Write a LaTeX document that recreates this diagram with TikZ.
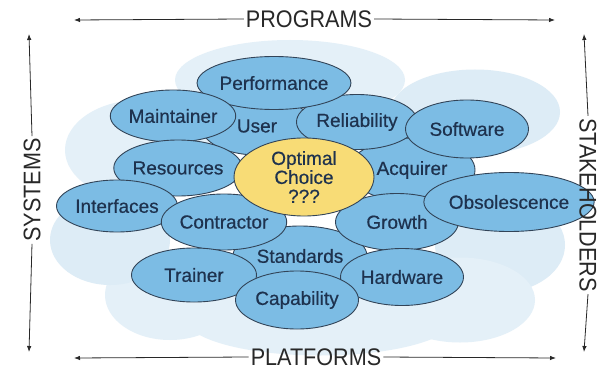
\documentclass[tikz,border=0pt]{standalone}
\usepackage{fontspec}
\setmainfont{Liberation Sans}
\newfontfamily\bubfont[FakeBold=0.5]{Liberation Sans}
\newfontfamily\axfont[FakeStretch=0.9]{Liberation Sans}
\usetikzlibrary{shapes.geometric,arrows.meta}
\definecolor{bubfill}{RGB}{124,188,228}
\definecolor{bubline}{RGB}{50,68,88}
\definecolor{yelfill}{RGB}{248,220,118}
\definecolor{txt}{RGB}{30,50,78}
\definecolor{cloud}{RGB}{228,240,248}
\definecolor{cloudb}{RGB}{221,236,246}
\definecolor{axis}{RGB}{40,40,40}
\tikzset{
  bub/.style={ellipse, draw=bubline, line width=0.9pt, fill=bubfill, inner sep=0pt,
    text=txt, font=\bubfont\fontsize{19}{19}\selectfont},
  yel/.style={bub, fill=yelfill},
  cloudpart/.style={ellipse, fill=cloud, draw=none, inner sep=0pt},
  axlabel/.style={text=axis, font=\axfont\fontsize{24}{26}\selectfont, inner sep=2pt},
  arr/.style={draw=axis, line width=0.8pt, -{Latex[length=6pt,width=4.5pt]}}
}
\begin{document}
\begin{tikzpicture}[x=1pt,y=-1pt]
\useasboundingbox[fill=white] (0,0) rectangle (615,377);
% background clouds
\node[cloudpart, minimum width=230, minimum height=80] (c1) at (290,80) {};
\node[cloudpart, minimum width=170, minimum height=85, fill=cloudb] (c2) at (475,112) {};
\node[cloudpart, minimum width=150, minimum height=100] (c3) at (140,150) {};
\node[cloudpart, minimum width=130, minimum height=95, fill=cloudb] (c4) at (500,245) {};
\node[cloudpart, minimum width=130, minimum height=90] (c5) at (170,295) {};
\node[cloudpart, minimum width=270, minimum height=75] (c6) at (320,318) {};
\node[cloudpart, minimum width=150, minimum height=85] (c7) at (460,300) {};
\node[cloudpart, minimum width=120, minimum height=90, fill=cloudb] (c8) at (110,240) {};
% bubbles, back to front
\node[bub, minimum width=112, minimum height=58] (user) at (257,126) {User};
\node[bub, minimum width=126, minimum height=64] (acq) at (412,170) {Acquirer};
\node[bub, minimum width=134, minimum height=60] (std) at (300,256) {Standards};
\node[bub, minimum width=121, minimum height=55] (rel) at (357,122) {Reliability};
\node[bub, minimum width=125, minimum height=53] (perf) at (274,83) {Performance};
\node[bub, minimum width=123, minimum height=52] (maint) at (173,116) {Maintainer};
\node[bub, minimum width=123, minimum height=58] (soft) at (467,129) {Software};
\node[bub, minimum width=120, minimum height=56] (res) at (178,168) {Resources};
\node[bub, minimum width=121, minimum height=52] (intf) at (117,206) {Interfaces};
\node[bub, minimum width=118, minimum height=56] (contr) at (224,222) {Contractor};
\node[bub, minimum width=123, minimum height=57] (grow) at (397,222) {Growth};
\node[bub, minimum width=128, minimum height=59] (obs) at (509,202) {Obsolescence};
\node[yel, minimum width=140, minimum height=78, align=center] (opt) at (304,177) {Optimal\\Choice\\???};
\node[bub, minimum width=125, minimum height=54] (train) at (194,275) {Trainer};
\node[bub, minimum width=123, minimum height=57] (hard) at (402,277) {Hardware};
\node[bub, minimum width=123, minimum height=58] (cap) at (297,300) {Capability};
% axis labels
\node[axlabel] (prog) at (309,19) {PROGRAMS};
\node[axlabel] (plat) at (316,357) {PLATFORMS};
\node[axlabel, rotate=90] (sys) at (32,190) {SYSTEMS};
\node[axlabel, rotate=-90] (stake) at (588,205) {STAKEHOLDERS};
\coordinate (progL) at (74,20);
\coordinate (progR) at (555,20);
\coordinate (platL) at (74,358);
\coordinate (platR) at (556,358);
\coordinate (sysT) at (29,34);
\coordinate (sysB) at (29,352);
\coordinate (stakeT) at (584,34);
\coordinate (stakeB) at (584,352);
\draw[arr] (prog.west) -- (progL);
\draw[arr] (prog.east) -- (progR);
\draw[arr] (plat.west) -- (platL);
\draw[arr] (plat.east) -- (platR);
\draw[arr] (sys.west) -- (sysB);
\draw[arr] (sys.east) -- (sysT);
\draw[arr] (stake.west) -- (stakeT);
\draw[arr] (stake.east) -- (stakeB);
\end{tikzpicture}
\end{document}
